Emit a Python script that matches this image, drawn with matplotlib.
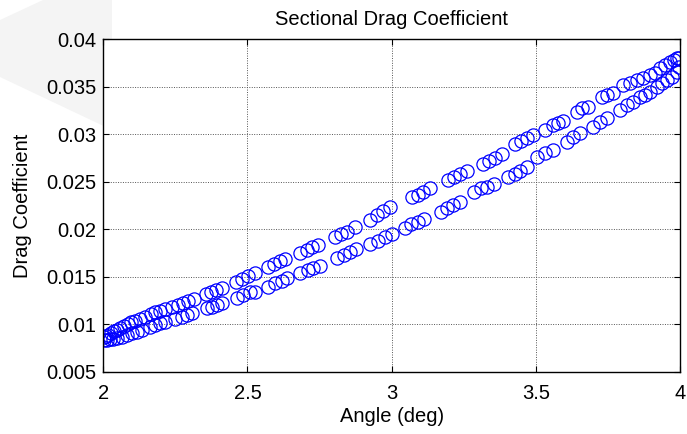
import matplotlib
matplotlib.use("Agg")
import matplotlib.pyplot as plt
from matplotlib.patches import Polygon

# Sectional drag coefficient over one pitching cycle (two branches of the loop)
angle_upper = [2.002, 2.009, 2.016, 2.027, 2.037, 2.047, 2.058, 2.072, 2.086, 2.096,
               2.110, 2.127, 2.145, 2.165, 2.179, 2.197, 2.214, 2.238, 2.259, 2.276,
               2.294, 2.314, 2.356, 2.373, 2.391, 2.411, 2.460, 2.481, 2.502, 2.526,
               2.571, 2.592, 2.612, 2.630, 2.682, 2.706, 2.723, 2.744, 2.803, 2.824,
               2.845, 2.872, 2.924, 2.949, 2.969, 2.994, 3.070, 3.091, 3.108, 3.132,
               3.194, 3.215, 3.236, 3.261, 3.316, 3.337, 3.358, 3.382, 3.427, 3.448,
               3.469, 3.489, 3.531, 3.559, 3.576, 3.593, 3.642, 3.659, 3.680, 3.729,
               3.746, 3.767, 3.801, 3.826, 3.850, 3.871, 3.895, 3.912, 3.929, 3.947,
               3.964, 3.978, 3.988, 3.995]
cd_upper = [0.00865, 0.00875, 0.00886, 0.00907, 0.00928, 0.00939, 0.00960, 0.00981, 0.01002, 0.01023,
            0.01033, 0.01054, 0.01075, 0.01107, 0.01128, 0.01139, 0.01160, 0.01181, 0.01202, 0.01223,
            0.01244, 0.01265, 0.01318, 0.01339, 0.01360, 0.01381, 0.01444, 0.01476, 0.01507, 0.01539,
            0.01602, 0.01634, 0.01665, 0.01686, 0.01750, 0.01781, 0.01813, 0.01834, 0.01918, 0.01950,
            0.01971, 0.02023, 0.02097, 0.02150, 0.02192, 0.02234, 0.02339, 0.02360, 0.02392, 0.02434,
            0.02518, 0.02550, 0.02582, 0.02613, 0.02687, 0.02719, 0.02750, 0.02792, 0.02898, 0.02929,
            0.02961, 0.02992, 0.03045, 0.03098, 0.03119, 0.03140, 0.03234, 0.03277, 0.03287, 0.03392,
            0.03413, 0.03434, 0.03519, 0.03540, 0.03571, 0.03592, 0.03624, 0.03645, 0.03698, 0.03730,
            0.03761, 0.03782, 0.03803, 0.03803]

angle_lower = [2.002, 2.013, 2.023, 2.034, 2.047, 2.065, 2.082, 2.099, 2.117, 2.134,
               2.162, 2.179, 2.197, 2.214, 2.249, 2.273, 2.290, 2.307, 2.359, 2.377,
               2.394, 2.411, 2.463, 2.484, 2.508, 2.526, 2.571, 2.595, 2.619, 2.637,
               2.682, 2.709, 2.727, 2.751, 2.810, 2.834, 2.855, 2.876, 2.924, 2.952,
               2.976, 3.000, 3.045, 3.066, 3.091, 3.112, 3.170, 3.191, 3.212, 3.236,
               3.285, 3.309, 3.330, 3.354, 3.403, 3.427, 3.444, 3.469, 3.503, 3.531,
               3.559, 3.607, 3.628, 3.652, 3.697, 3.722, 3.746, 3.791, 3.815, 3.836,
               3.861, 3.877, 3.895, 3.919, 3.936, 3.954, 3.971, 3.988, 3.995]
cd_lower = [0.00833, 0.00833, 0.00844, 0.00844, 0.00854, 0.00865, 0.00886, 0.00907, 0.00918, 0.00939,
            0.00970, 0.00991, 0.01012, 0.01023, 0.01054, 0.01075, 0.01096, 0.01118, 0.01170, 0.01181,
            0.01202, 0.01223, 0.01276, 0.01307, 0.01339, 0.01339, 0.01391, 0.01434, 0.01455, 0.01486,
            0.01539, 0.01570, 0.01592, 0.01613, 0.01697, 0.01728, 0.01760, 0.01792, 0.01845, 0.01876,
            0.01918, 0.01950, 0.02013, 0.02055, 0.02076, 0.02108, 0.02181, 0.02223, 0.02255, 0.02287,
            0.02392, 0.02434, 0.02444, 0.02476, 0.02550, 0.02582, 0.02613, 0.02655, 0.02761, 0.02803,
            0.02834, 0.02918, 0.02971, 0.03013, 0.03076, 0.03129, 0.03171, 0.03255, 0.03308, 0.03340,
            0.03392, 0.03413, 0.03445, 0.03498, 0.03540, 0.03571, 0.03603, 0.03656, 0.03708]

x_ticks = [2, 2.5, 3, 3.5, 4]
x_tick_labels = ["2", "2.5", "3", "3.5", "4"]
y_ticks = [0.005, 0.01, 0.015, 0.02, 0.025, 0.03, 0.035, 0.04]
y_tick_labels = ["0.005", "0.01", "0.015", "0.02", "0.025", "0.03", "0.035", "0.04"]

plt.rcParams["font.family"] = ["Liberation Sans", "DejaVu Sans"]
FS = 14.5

fig = plt.figure(figsize=(6.87, 4.34), dpi=100)
fig.patch.set_facecolor("white")

# pale backdrop shape in the upper-left corner
W, H = 687, 434
corner = [(43, 0), (112, 0), (112, 130), (0, 77), (0, 20)]
fig.patches.append(Polygon([(x / W, 1 - y / H) for x, y in corner], closed=True,
                           transform=fig.transFigure, facecolor="#f4f4f4",
                           edgecolor="none", zorder=-10))

ax = fig.add_axes([103.3 / W, 1 - 371.7 / H, (680 - 103.3) / W, (371.7 - 39.3) / H])
ax.set_facecolor("white")

marker_style = dict(linestyle="none", marker="o", markersize=9.5,
                    markerfacecolor="none", markeredgecolor="#0000ff", markeredgewidth=0.9)
ax.plot(angle_upper, cd_upper, **marker_style)
ax.plot(angle_lower, cd_lower, **marker_style)

ax.set_xlim(2, 4)
ax.set_ylim(0.005, 0.04)
ax.set_xticks(x_ticks)
ax.set_xticklabels(x_tick_labels)
ax.set_yticks(y_ticks)
ax.set_yticklabels(y_tick_labels)

ax.grid(True, color="#555555", linestyle=(0, (1, 1.5)), linewidth=0.7)
ax.set_axisbelow(True)
ax.tick_params(direction="in", length=4, width=0.8, top=True, right=True,
               labelsize=FS, colors="black")
ax.tick_params(axis="x", pad=9)
ax.tick_params(axis="y", pad=5)
for s in ax.spines.values():
    s.set_linewidth(1.0)
    s.set_color("black")

ax.set_title("Sectional Drag Coefficient", fontsize=FS, pad=10)
ax.set_xlabel("Angle (deg)", fontsize=FS, labelpad=3)
ax.set_ylabel("Drag Coefficient", fontsize=FS, labelpad=10)

fig.savefig("out.png", dpi=100, facecolor="white")
